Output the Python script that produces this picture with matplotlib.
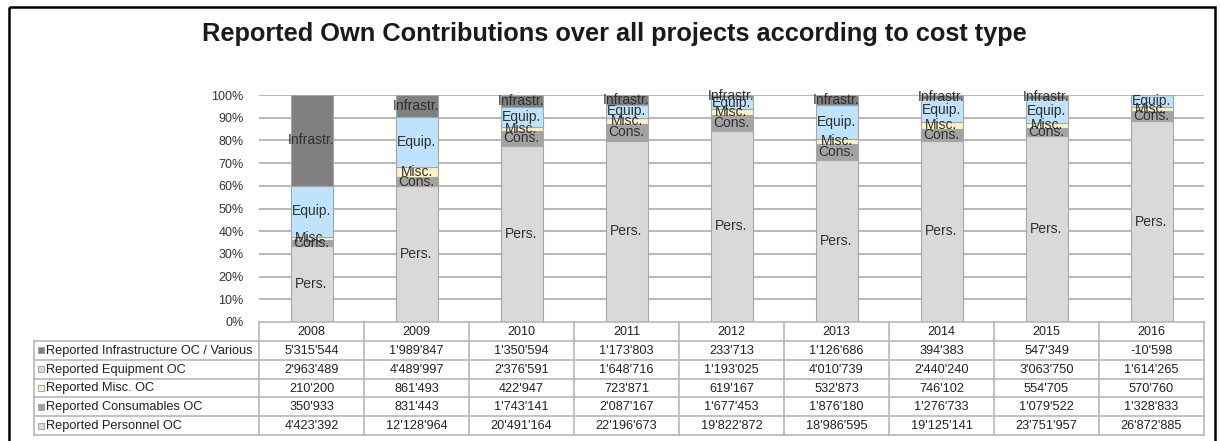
import matplotlib
matplotlib.use("Agg")
import matplotlib.pyplot as plt
import matplotlib.transforms as mtrans
from matplotlib.patches import Rectangle
import numpy as np

plt.rcParams['font.family'] = ['Liberation Sans', 'DejaVu Sans']

# data
years = ['2008', '2009', '2010', '2011', '2012', '2013', '2014', '2015', '2016']
personnel = [4423392, 12128964, 20491164, 22196673, 19822872, 18986595, 19125141, 23751957, 26872885]
consumables = [350933, 831443, 1743141, 2087167, 1677453, 1876180, 1276733, 1079522, 1328833]
misc = [210200, 861493, 422947, 723871, 619167, 532873, 746102, 554705, 570760]
equipment = [2963489, 4489997, 2376591, 1648716, 1193025, 4010739, 2440240, 3063750, 1614265]
infrastructure = [5315544, 1989847, 1350594, 1173803, 233713, 1126686, 394383, 547349, -10598]

# stacking order bottom -> top
series = [
    ('Pers.', 'Reported Personnel OC', personnel, '#d9d9d9'),
    ('Cons.', 'Reported Consumables OC', consumables, '#a3a3a3'),
    ('Misc.', 'Reported Misc. OC', misc, '#fff2c4'),
    ('Equip.', 'Reported Equipment OC', equipment, '#bfe3fd'),
    ('Infrastr.', 'Reported Infrastructure OC / Various', infrastructure, '#808080'),
]

W, H = 1220, 441
fig = plt.figure(figsize=(W / 100, H / 100), dpi=100)

def box(x0, y0, x1, y1):
    # pixel box (top-left origin) -> figure rect
    return [x0 / W, 1 - y1 / H, (x1 - x0) / W, (y1 - y0) / H]

ax = fig.add_axes(box(259, 95, 1204, 322))
ax.set_xlim(-0.5, len(years) - 0.5)
ax.set_ylim(0, 100)

vals = np.array([s[2] for s in series], dtype=float)
totals = vals.sum(axis=0)
pct = vals / totals * 100
x = np.arange(len(years))

for y in range(10, 101, 10):
    ax.axhline(y, color='#b3b3b3', lw=1.3, zorder=0)

bottom = np.zeros(len(years))
for (short, _, _, col), p in zip(series, pct):
    pos = np.clip(p, 0, None)
    ax.bar(x, pos, width=0.4, bottom=bottom, color=col,
           edgecolor='#a6a6a6', linewidth=0.8, zorder=2)
    for i in range(len(years)):
        if p[i] > 0:
            ax.text(x[i], bottom[i] + pos[i] / 2, short, ha='center', va='center',
                    fontsize=10, color='#303030', zorder=3, clip_on=False)
    bottom += pos

ax.set_yticks(range(0, 101, 10))
ax.set_yticklabels([f'{t}%' for t in range(0, 101, 10)], fontsize=9, color='#333333')
ax.tick_params(axis='y', length=0, pad=11)
ax.set_xticks([])
for sp in ax.spines.values():
    sp.set_visible(False)

# overlay in pixel coordinates for the table and frame
ov = fig.add_axes([0, 0, 1, 1], zorder=5)
ov.set_xlim(0, W)
ov.set_ylim(H, 0)
ov.axis('off')
ov.patch.set_alpha(0)

fig.text(614 / W, 1 - 34 / H, 'Reported Own Contributions over all projects according to cost type',
         ha='center', va='center', fontsize=18.3, fontweight='bold', color='#1a1a1a')

ov.add_patch(Rectangle((9, 7), 1206, 445, fill=False, edgecolor='black', lw=1.8, clip_on=False))

bl = mtrans.blended_transform_factory(ax.transData, ov.transData)
grid_c = '#b8b8b8'
top, hdr = 322, 341
row_h = 18.8
rows = list(reversed(series))  # table lists infrastructure first
bottom_y = hdr + row_h * len(rows)
left_lab = 34

# horizontal lines
ov.plot([-0.5, len(years) - 0.5], [top, top], color=grid_c, lw=1.2, transform=bl)
for k in range(len(rows) + 1):
    yy = hdr + row_h * k
    ov.plot([left_lab, 259], [yy, yy], color=grid_c, lw=1.2)
    ov.plot([-0.5, len(years) - 0.5], [yy, yy], color=grid_c, lw=1.2, transform=bl)
# vertical lines
ov.plot([left_lab, left_lab], [hdr, bottom_y], color=grid_c, lw=1.2)
for i in range(len(years) + 1):
    ov.plot([i - 0.5, i - 0.5], [top, bottom_y], color=grid_c, lw=1.2, transform=bl)

for i, yr in enumerate(years):
    ov.text(i, (top + hdr) / 2 + 0.5, yr, ha='center', va='center', fontsize=9,
            color='#222222', transform=bl)

for r, (short, name, v, col) in enumerate(rows):
    yc = hdr + row_h * (r + 0.5)
    ov.add_patch(Rectangle((38, yc - 3), 6, 6, facecolor=col, edgecolor='#999999', lw=0.6))
    ov.text(46, yc + 0.5, name, ha='left', va='center', fontsize=9.2, color='#222222')
    for i in range(len(years)):
        ov.text(i, yc + 0.5, f'{v[i]:,}'.replace(',', "'"), ha='center', va='center',
                fontsize=9.2, color='#222222', transform=bl)

fig.savefig('out.png', dpi=100)
